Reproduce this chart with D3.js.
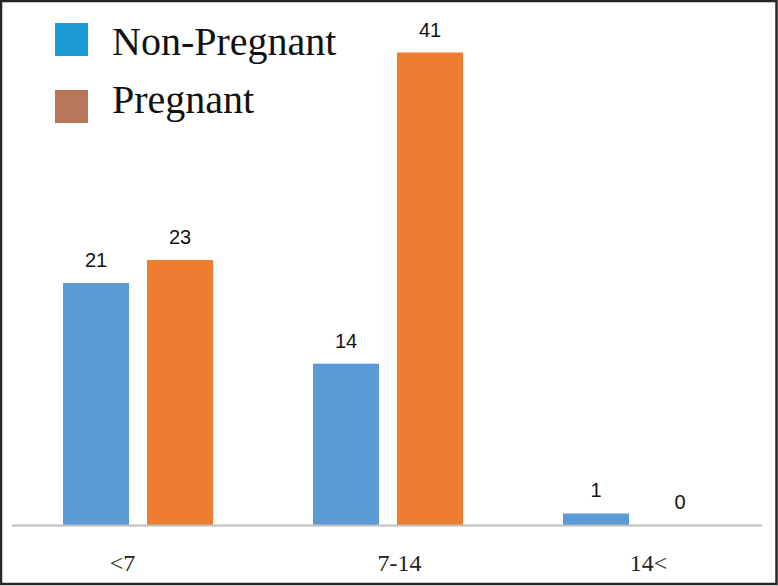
<!DOCTYPE html>
<html>
<head>
<meta charset="utf-8">
<script src="https://cdn.jsdelivr.net/npm/d3@7"></script>
<style>
  body { margin: 0; background: #fff; }
  svg { display: block; }
</style>
</head>
<body>
<div id="chart"></div>
<script>
const categories = ["<7", "7-14", "14<"];
const series = ["Non-Pregnant", "Pregnant"];
const nonPregnant = [21, 14, 1];
const pregnant = [23, 41, 0];

const width = 778;
const height = 586;

const barColors = ["#5b9bd5", "#ed7d31"];
const legendColors = ["#1d9bd7", "#b87557"];

const svg = d3.select("#chart")
    .append("svg")
    .attr("width", width)
    .attr("height", height);

svg.append("rect")
    .attr("width", width)
    .attr("height", height)
    .attr("fill", "#fff");

const x = d3.scaleBand()
    .domain(categories)
    .range([12.5, 762.5])
    .padding(0);

// bars inside each group
const xs = d3.scaleBand()
    .domain(series)
    .range([50.5, 200.5])
    .paddingInner(18 / 84)
    .paddingOuter(0);

const y = d3.scaleLinear()
    .domain([0, 41])
    .range([525, 52.5]);

const rows = categories.map((c, i) => ({
    cat: c,
    values: [
        { s: series[0], v: nonPregnant[i] },
        { s: series[1], v: pregnant[i] }
    ]
}));

const groups = svg.selectAll("g.group")
    .data(rows)
    .join("g")
    .attr("class", "group")
    .attr("transform", d => "translate(" + x(d.cat) + ",0)");

groups.selectAll("rect")
    .data(d => d.values)
    .join("rect")
    .attr("x", d => xs(d.s))
    .attr("y", d => y(d.v))
    .attr("width", xs.bandwidth())
    .attr("height", d => y(0) - y(d.v))
    .attr("fill", (d, i) => barColors[i]);

groups.selectAll("text.val")
    .data(d => d.values)
    .join("text")
    .attr("class", "val")
    .attr("x", d => xs(d.s) + xs.bandwidth() / 2)
    .attr("y", d => y(d.v) - 16)
    .attr("text-anchor", "middle")
    .attr("font-family", "'Liberation Sans', Arial, sans-serif")
    .attr("font-size", 20)
    .attr("fill", "#111")
    .text(d => d.v);

// baseline
svg.append("line")
    .attr("x1", 12)
    .attr("x2", 762)
    .attr("y1", y(0) + 0.5)
    .attr("y2", y(0) + 0.5)
    .attr("stroke", "#bdbdbd")
    .attr("stroke-width", 1.8);

// category labels, slightly off-centre like the original
const labelNudge = [-15, 12, 11];
svg.selectAll("text.cat")
    .data(categories)
    .join("text")
    .attr("class", "cat")
    .attr("x", (d, i) => x(d) + x.bandwidth() / 2 + labelNudge[i])
    .attr("y", 571)
    .attr("text-anchor", "middle")
    .attr("font-family", "'Liberation Serif', 'Times New Roman', serif")
    .attr("font-size", 24)
    .attr("fill", "#222")
    .text(d => d);

// legend
const legend = svg.append("g");
const legendY = [23, 90];
const legendBase = [55, 113];

legend.selectAll("rect")
    .data(series)
    .join("rect")
    .attr("x", 55)
    .attr("y", (d, i) => legendY[i])
    .attr("width", 33)
    .attr("height", 33)
    .attr("fill", (d, i) => legendColors[i]);

legend.selectAll("text")
    .data(series)
    .join("text")
    .attr("x", 112)
    .attr("y", (d, i) => legendBase[i])
    .attr("font-family", "'Liberation Serif', 'Times New Roman', serif")
    .attr("font-size", 40)
    .attr("fill", "#111")
    .text(d => d);

// dark frame
svg.append("rect")
    .attr("x", 1)
    .attr("y", 1)
    .attr("width", width - 2.5)
    .attr("height", height - 3)
    .attr("fill", "none")
    .attr("stroke", "#262626")
    .attr("stroke-width", 2.5);
</script>
</body>
</html>
